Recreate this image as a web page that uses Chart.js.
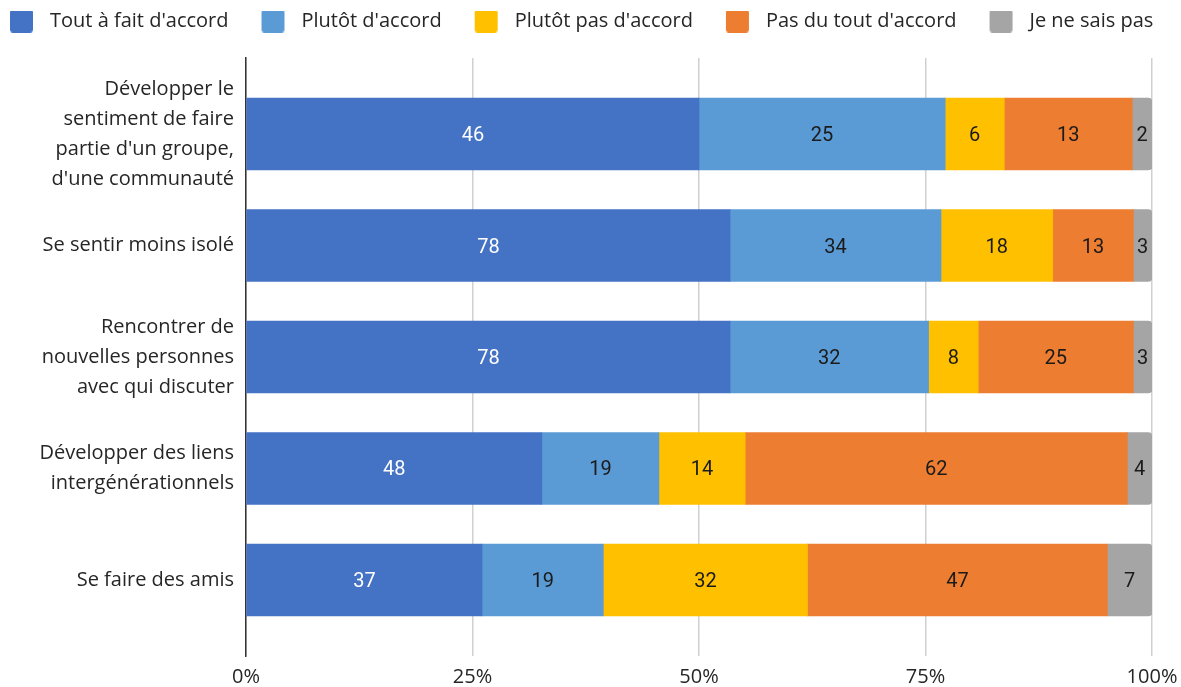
<!DOCTYPE html>
<html>
<head>
<meta charset="utf-8">
<script src="https://cdn.jsdelivr.net/npm/chart.js@4"></script>
<style>
html,body{margin:0;padding:0;background:#fff;}
#wrap{position:relative;width:1181px;height:687px;}
</style>
</head>
<body>
<div id="wrap"><canvas id="c" width="1181" height="687"></canvas></div>
<script>
const categories = [
  ["Développer le", "sentiment de faire", "partie d'un groupe,", "d'une communauté"],
  ["Se sentir moins isolé"],
  ["Rencontrer de", "nouvelles personnes", "avec qui discuter"],
  ["Développer des liens", "intergénérationnels"],
  ["Se faire des amis"]
];
const seriesNames = ["Tout à fait d'accord", "Plutôt d'accord", "Plutôt pas d'accord", "Pas du tout d'accord", "Je ne sais pas"];
const toutAFait   = [46, 78, 78, 48, 37];
const plutotOui   = [25, 34, 32, 19, 19];
const plutotNon   = [6, 18, 8, 14, 32];
const pasDuTout   = [13, 13, 25, 62, 47];
const neSaisPas   = [2, 3, 3, 4, 7];
const xTicks = [0, 25, 50, 75, 100];
const colors = ["#4472C4", "#5B9BD5", "#FFC000", "#ED7D31", "#A5A5A5"];

const series = [toutAFait, plutotOui, plutotNon, pasDuTout, neSaisPas];
const totals = categories.map((_, i) => series.reduce((s, arr) => s + arr[i], 0));

const datasets = series.map((arr, k) => ({
  label: seriesNames[k],
  data: arr.map((v, i) => ({ x: v / totals[i] * 100, y: i })),
  backgroundColor: colors[k],
  borderWidth: 0,
  barThickness: 72,
  borderRadius: k === series.length - 1 ? 4 : 0,
  borderSkipped: 'start'
}));

// legend swatch: transparent lead-in, rounded square, small gap
function swatch(color) {
  const c = document.createElement('canvas');
  c.width = 63; c.height = 23;
  const g = c.getContext('2d');
  g.fillStyle = color;
  g.beginPath();
  if (g.roundRect) g.roundRect(33, 0, 23, 23, 3); else g.rect(33, 0, 23, 23);
  g.fill();
  return c;
}
const swatches = colors.map(swatch);

const valueLabels = {
  id: 'valueLabels',
  afterDatasetsDraw(chart) {
    const ctx = chart.ctx;
    ctx.save();
    ctx.font = '20px Roboto';
    ctx.textAlign = 'center';
    ctx.textBaseline = 'middle';
    chart.data.datasets.forEach((ds, k) => {
      const meta = chart.getDatasetMeta(k);
      meta.data.forEach((el, i) => {
        const cx = (el.x + el.base) / 2;
        ctx.fillStyle = k === 0 ? '#ffffff' : '#1b1b1b';
        ctx.fillText(String(series[k][i]), cx, el.y + 2);
      });
    });
    ctx.restore();
  }
};

new Chart(document.getElementById('c'), {
  type: 'bar',
  data: { datasets },
  options: {
    indexAxis: 'y',
    responsive: false,
    animation: false,
    layout: { padding: { left: -23, right: 0, top: 11, bottom: 0 } },
    plugins: {
      legend: {
        position: 'top',
        align: 'start',
        labels: {
          usePointStyle: true,
          pointStyleWidth: 63,
          boxHeight: 20,
          color: '#262626',
          font: { family: 'Open Sans', size: 20 },
          padding: 0,
          generateLabels: (chart) => {
            const items = Chart.defaults.plugins.legend.labels.generateLabels(chart);
            items.forEach((it, k) => { it.pointStyle = swatches[k]; });
            return items;
          }
        }
      },
      tooltip: { enabled: false }
    },
    scales: {
      x: {
        type: 'linear',
        stacked: true,
        min: 0, max: 100,
        afterBuildTicks: (s) => { s.ticks = xTicks.map(v => ({ value: v })); },
        afterFit: (s) => { s.paddingRight = 29; s.height = 31; },
        ticks: {
          callback: (v) => v + '%',
          color: '#262626',
          font: { family: 'Open Sans', size: 20, lineHeight: 0.9 },
          padding: 12
        },
        grid: { color: '#d0d0d0', lineWidth: 1.5, drawTicks: false },
        border: { display: false }
      },
      xTop: {
        type: 'linear',
        position: 'top',
        min: 0, max: 100,
        afterFit: (s) => { s.height = 17; s.paddingLeft = 0; s.paddingRight = 0; },
        ticks: { display: false },
        grid: { display: false, drawTicks: false },
        border: { display: false }
      },
      y: {
        type: 'linear',
        stacked: true,
        reverse: true,
        offset: false,
        min: -0.682, max: 4.682,
        afterBuildTicks: (s) => { s.ticks = categories.map((_, i) => ({ value: i })); },
        afterFit: (s) => { s.paddingTop = 0; s.paddingBottom = 0; s.width = 269; },
        ticks: {
          callback: (v) => categories[v],
          color: '#262626',
          font: { family: 'Open Sans', size: 20, lineHeight: 1.5 },
          padding: 12
        },
        grid: { display: false, drawTicks: false },
        border: { display: true, color: '#333', width: 1.5 }
      }
    }
  },
  plugins: [valueLabels]
});
</script>
</body>
</html>
